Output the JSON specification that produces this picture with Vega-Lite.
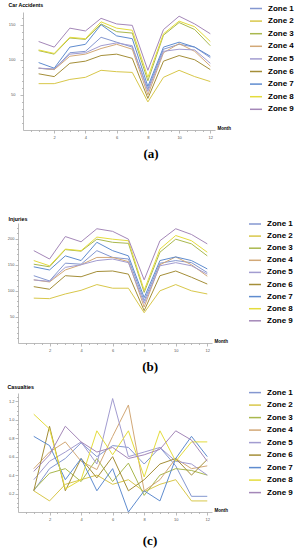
{
  "$schema": "https://vega.github.io/schema/vega-lite/v6.json",
  "padding": {"left": 7, "top": 1, "right": 0, "bottom": 0},
  "background": "white",
  "config": {
    "view": {"stroke": null},
    "axis": {"labelFont": "Liberation Sans", "titleFont": "Liberation Sans", "domainColor": "#aaaaaa", "tickColor": "#aaaaaa", "labelColor": "#555555", "grid": false, "labelOverlap": false, "labelFlush": false, "domainWidth": 0.8, "tickWidth": 0.8},
    "legend": {"labelFont": "Liberation Sans"},
    "title": {"font": "Liberation Serif"}
  },
  "datasets": {
    "acc": [
      {"m":1,"Zone 1":88,"Zone 2":66,"Zone 3":113,"Zone 4":88,"Zone 5":88,"Zone 6":80,"Zone 7":96,"Zone 8":114,"Zone 9":126},
      {"m":2,"Zone 1":86,"Zone 2":66,"Zone 3":108,"Zone 4":86,"Zone 5":87,"Zone 6":76,"Zone 7":88,"Zone 8":109,"Zone 9":118},
      {"m":3,"Zone 1":110,"Zone 2":72,"Zone 3":131,"Zone 4":105,"Zone 5":108,"Zone 6":95,"Zone 7":118,"Zone 8":132,"Zone 9":145},
      {"m":4,"Zone 1":112,"Zone 2":75,"Zone 3":129,"Zone 4":108,"Zone 5":110,"Zone 6":98,"Zone 7":122,"Zone 8":130,"Zone 9":141},
      {"m":5,"Zone 1":132,"Zone 2":85,"Zone 3":151,"Zone 4":116,"Zone 5":120,"Zone 6":106,"Zone 7":150,"Zone 8":154,"Zone 9":159},
      {"m":6,"Zone 1":125,"Zone 2":83,"Zone 3":140,"Zone 4":122,"Zone 5":124,"Zone 6":108,"Zone 7":134,"Zone 8":145,"Zone 9":151},
      {"m":7,"Zone 1":118,"Zone 2":82,"Zone 3":138,"Zone 4":115,"Zone 5":120,"Zone 6":102,"Zone 7":130,"Zone 8":142,"Zone 9":149},
      {"m":8,"Zone 1":58,"Zone 2":40,"Zone 3":70,"Zone 4":50,"Zone 5":55,"Zone 6":45,"Zone 7":62,"Zone 8":75,"Zone 9":85},
      {"m":9,"Zone 1":115,"Zone 2":75,"Zone 3":135,"Zone 4":110,"Zone 5":112,"Zone 6":98,"Zone 7":118,"Zone 8":137,"Zone 9":143},
      {"m":10,"Zone 1":122,"Zone 2":85,"Zone 3":153,"Zone 4":123,"Zone 5":115,"Zone 6":106,"Zone 7":125,"Zone 8":155,"Zone 9":162},
      {"m":11,"Zone 1":118,"Zone 2":76,"Zone 3":143,"Zone 4":112,"Zone 5":114,"Zone 6":100,"Zone 7":118,"Zone 8":147,"Zone 9":151},
      {"m":12,"Zone 1":103,"Zone 2":69,"Zone 3":120,"Zone 4":91,"Zone 5":95,"Zone 6":86,"Zone 7":105,"Zone 8":126,"Zone 9":137}
    ],
    "inj": [
      {"m":1,"Zone 1":129,"Zone 2":86,"Zone 3":151,"Zone 4":121,"Zone 5":121,"Zone 6":108,"Zone 7":146,"Zone 8":158,"Zone 9":177},
      {"m":2,"Zone 1":119,"Zone 2":85,"Zone 3":146,"Zone 4":117,"Zone 5":118,"Zone 6":103,"Zone 7":140,"Zone 8":148,"Zone 9":161},
      {"m":3,"Zone 1":153,"Zone 2":94,"Zone 3":179,"Zone 4":140,"Zone 5":145,"Zone 6":129,"Zone 7":167,"Zone 8":180,"Zone 9":204},
      {"m":4,"Zone 1":151,"Zone 2":101,"Zone 3":176,"Zone 4":150,"Zone 5":150,"Zone 6":127,"Zone 7":158,"Zone 8":177,"Zone 9":194},
      {"m":5,"Zone 1":177,"Zone 2":112,"Zone 3":199,"Zone 4":164,"Zone 5":158,"Zone 6":137,"Zone 7":193,"Zone 8":203,"Zone 9":219},
      {"m":6,"Zone 1":164,"Zone 2":105,"Zone 3":193,"Zone 4":164,"Zone 5":161,"Zone 6":138,"Zone 7":177,"Zone 8":199,"Zone 9":214},
      {"m":7,"Zone 1":161,"Zone 2":105,"Zone 3":191,"Zone 4":156,"Zone 5":154,"Zone 6":132,"Zone 7":167,"Zone 8":196,"Zone 9":199},
      {"m":8,"Zone 1":81,"Zone 2":58,"Zone 3":97,"Zone 4":69,"Zone 5":76,"Zone 6":62,"Zone 7":87,"Zone 8":101,"Zone 9":121},
      {"m":9,"Zone 1":153,"Zone 2":100,"Zone 3":174,"Zone 4":150,"Zone 5":148,"Zone 6":129,"Zone 7":158,"Zone 8":180,"Zone 9":196},
      {"m":10,"Zone 1":158,"Zone 2":112,"Zone 3":199,"Zone 4":165,"Zone 5":154,"Zone 6":138,"Zone 7":165,"Zone 8":206,"Zone 9":219},
      {"m":11,"Zone 1":154,"Zone 2":100,"Zone 3":190,"Zone 4":150,"Zone 5":148,"Zone 6":126,"Zone 7":158,"Zone 8":196,"Zone 9":208},
      {"m":12,"Zone 1":135,"Zone 2":94,"Zone 3":167,"Zone 4":128,"Zone 5":132,"Zone 6":113,"Zone 7":142,"Zone 8":174,"Zone 9":190}
    ],
    "cas": [
      {"m":1,"Zone 1":0.23,"Zone 2":0.23,"Zone 3":0.24,"Zone 4":0.47,"Zone 5":0.35,"Zone 6":0.23,"Zone 7":0.82,"Zone 8":1.06,"Zone 9":0.44},
      {"m":2,"Zone 1":0.47,"Zone 2":0.12,"Zone 3":0.42,"Zone 4":0.65,"Zone 5":0.55,"Zone 6":0.93,"Zone 7":0.72,"Zone 8":0.9,"Zone 9":0.62},
      {"m":3,"Zone 1":0.58,"Zone 2":0.3,"Zone 3":0.47,"Zone 4":0.76,"Zone 5":0.65,"Zone 6":0.23,"Zone 7":0.35,"Zone 8":0.25,"Zone 9":0.93},
      {"m":4,"Zone 1":0.75,"Zone 2":0.35,"Zone 3":0.33,"Zone 4":0.55,"Zone 5":0.76,"Zone 6":0.58,"Zone 7":0.58,"Zone 8":0.35,"Zone 9":0.76},
      {"m":5,"Zone 1":0.6,"Zone 2":0.4,"Zone 3":0.58,"Zone 4":0.46,"Zone 5":0.52,"Zone 6":0.37,"Zone 7":0.23,"Zone 8":0.88,"Zone 9":0.65},
      {"m":6,"Zone 1":0.72,"Zone 2":0.3,"Zone 3":0.33,"Zone 4":0.82,"Zone 5":1.23,"Zone 6":0.6,"Zone 7":0.47,"Zone 8":0.62,"Zone 9":0.7},
      {"m":7,"Zone 1":0.7,"Zone 2":0.35,"Zone 3":0.53,"Zone 4":1.16,"Zone 5":0.6,"Zone 6":0.23,"Zone 7":0.0,"Zone 8":0.88,"Zone 9":0.58},
      {"m":8,"Zone 1":0.52,"Zone 2":0.22,"Zone 3":0.18,"Zone 4":0.23,"Zone 5":0.65,"Zone 6":0.35,"Zone 7":0.23,"Zone 8":0.38,"Zone 9":0.62},
      {"m":9,"Zone 1":0.7,"Zone 2":0.3,"Zone 3":0.4,"Zone 4":0.35,"Zone 5":0.7,"Zone 6":0.52,"Zone 7":0.12,"Zone 8":0.88,"Zone 9":0.68},
      {"m":10,"Zone 1":0.5,"Zone 2":0.35,"Zone 3":0.47,"Zone 4":0.58,"Zone 5":0.55,"Zone 6":0.58,"Zone 7":0.58,"Zone 8":0.55,"Zone 9":0.88},
      {"m":11,"Zone 1":0.17,"Zone 2":0.12,"Zone 3":0.45,"Zone 4":0.47,"Zone 5":0.52,"Zone 6":0.4,"Zone 7":0.82,"Zone 8":0.76,"Zone 9":0.78},
      {"m":12,"Zone 1":0.17,"Zone 2":0.12,"Zone 3":0.4,"Zone 4":0.5,"Zone 5":0.4,"Zone 6":0.57,"Zone 7":0.6,"Zone 8":0.76,"Zone 9":0.55}
    ]
  },
  "resolve": {"legend": {"color": "independent"}},
  "spacing": 10,
  "vconcat": [
    {
      "width": 197, "height": 118,
      "data": {"name": "acc"},
      "transform": [{"fold": ["Zone 1","Zone 2","Zone 3","Zone 4","Zone 5","Zone 6","Zone 7","Zone 8","Zone 9"], "as": ["zone","value"]}],
      "mark": {"type": "line", "strokeWidth": 1},
      "title": {"text": "(a)", "subtitle": " ", "subtitleFontSize": 2, "subtitlePadding": 43, "orient": "bottom", "anchor": "middle", "frame": "bounds", "offset": 9, "fontSize": 13, "fontWeight": "bold", "color": "black"},
      "encoding": {
        "x": {"field": "m", "type": "quantitative", "scale": {"domain": [0, 12.3], "range": [5, 197], "nice": false, "zero": false},
          "axis": {"title": "Month", "titleX": 199, "titleY": -2, "titleAlign": "left", "titleBaseline": "middle", "titleAnchor": null, "titleFontSize": 4.5, "titleFontWeight": "bold", "titleColor": "black",
            "values": [0.5,1,1.5,2,2.5,3,3.5,4,4.5,5,5.5,6,6.5,7,7.5,8,8.5,9,9.5,10,10.5,11,11.5,12],
            "labelExpr": "datum.value % 2 == 0 ? format(datum.value, 'd') : ''", "labelFontSize": 4, "labelPadding": 2,
            "tickSize": {"condition": {"test": "datum.value % 2 == 0", "value": 3}, "value": 1.5}}},
        "y": {"field": "value", "type": "quantitative", "scale": {"domain": [0, 168], "nice": false},
          "axis": {"title": "Car Accidents", "offset": -5, "titleAngle": 0, "titleX": -15, "titleY": -8, "titleAlign": "left", "titleBaseline": "middle", "titleFontSize": 5.2, "titleFontWeight": "bold", "titleColor": "black",
            "values": [10,20,30,40,50,60,70,80,90,100,110,120,130,140,150,160],
            "labelExpr": "datum.value % 50 == 0 ? format(datum.value, 'd') : ''", "labelFontSize": 4, "labelPadding": 5,
            "tickSize": {"condition": {"test": "datum.value % 50 == 0", "value": 3}, "value": 1.5}}},
        "color": {"field": "zone", "type": "nominal",
          "scale": {"domain": ["Zone 1","Zone 2","Zone 3","Zone 4","Zone 5","Zone 6","Zone 7","Zone 8","Zone 9"], "range": ["#8497D0","#D8C74A","#A9B84E","#D2A877","#A29CD0","#A48E38","#5F8CCF","#E4DC3C","#A487B8"]},
          "legend": {"orient": "none", "legendX": 231, "legendY": -10.5, "title": null, "symbolType": "stroke", "symbolSize": 144, "symbolStrokeWidth": 1.5, "labelFontSize": 8, "labelFontWeight": "bold", "labelColor": "black", "rowPadding": 1.6, "labelOffset": 5}}
      }
    },
    {
      "width": 194, "height": 120,
      "data": {"name": "inj"},
      "transform": [{"fold": ["Zone 1","Zone 2","Zone 3","Zone 4","Zone 5","Zone 6","Zone 7","Zone 8","Zone 9"], "as": ["zone","value"]}],
      "mark": {"type": "line", "strokeWidth": 1},
      "title": {"text": "(b)", "orient": "bottom", "anchor": "middle", "frame": "bounds", "offset": 9, "fontSize": 13, "fontWeight": "bold", "color": "black"},
      "encoding": {
        "x": {"field": "m", "type": "quantitative", "scale": {"domain": [0, 12.3], "nice": false, "zero": false},
          "axis": {"title": "Month", "titleX": 196, "titleY": -2, "titleAlign": "left", "titleBaseline": "middle", "titleAnchor": null, "titleFontSize": 4.5, "titleFontWeight": "bold", "titleColor": "black",
            "values": [0.5,1,1.5,2,2.5,3,3.5,4,4.5,5,5.5,6,6.5,7,7.5,8,8.5,9,9.5,10,10.5,11,11.5,12],
            "labelExpr": "datum.value % 2 == 0 ? format(datum.value, 'd') : ''", "labelFontSize": 4, "labelPadding": 2,
            "tickSize": {"condition": {"test": "datum.value % 2 == 0", "value": 3}, "value": 1.5}}},
        "y": {"field": "value", "type": "quantitative", "scale": {"domain": [0, 230], "nice": false},
          "axis": {"title": "Injuries", "titleAngle": 0, "titleX": -10, "titleY": -5, "titleAlign": "left", "titleBaseline": "middle", "titleFontSize": 5.3, "titleFontWeight": "bold", "titleColor": "black",
            "values": [10,20,30,40,50,60,70,80,90,100,110,120,130,140,150,160,170,180,190,200,210,220],
            "labelExpr": "datum.value % 50 == 0 ? format(datum.value, 'd') : ''", "labelFontSize": 4, "labelPadding": 1,
            "tickSize": {"condition": {"test": "datum.value % 50 == 0", "value": 3}, "value": 1.5}}},
        "color": {"field": "zone", "type": "nominal",
          "scale": {"domain": ["Zone 1","Zone 2","Zone 3","Zone 4","Zone 5","Zone 6","Zone 7","Zone 8","Zone 9"], "range": ["#8497D0","#D8C74A","#A9B84E","#D2A877","#A29CD0","#A48E38","#5F8CCF","#E4DC3C","#A487B8"]},
          "legend": {"orient": "none", "legendX": 230, "legendY": -6, "title": null, "symbolType": "stroke", "symbolSize": 144, "symbolStrokeWidth": 1.5, "labelFontSize": 8, "labelFontWeight": "bold", "labelColor": "black", "rowPadding": 1.1, "labelOffset": 5}}
      }
    },
    {
      "width": 194, "height": 119,
      "data": {"name": "cas"},
      "transform": [{"fold": ["Zone 1","Zone 2","Zone 3","Zone 4","Zone 5","Zone 6","Zone 7","Zone 8","Zone 9"], "as": ["zone","value"]}],
      "mark": {"type": "line", "strokeWidth": 1},
      "title": {"text": "(c)", "orient": "bottom", "anchor": "middle", "frame": "bounds", "offset": 14, "fontSize": 13, "fontWeight": "bold", "color": "black"},
      "encoding": {
        "x": {"field": "m", "type": "quantitative", "scale": {"domain": [0, 12.3], "nice": false, "zero": false},
          "axis": {"title": "Month", "titleX": 196, "titleY": -2, "titleAlign": "left", "titleBaseline": "middle", "titleAnchor": null, "titleFontSize": 4.5, "titleFontWeight": "bold", "titleColor": "black",
            "values": [0.5,1,1.5,2,2.5,3,3.5,4,4.5,5,5.5,6,6.5,7,7.5,8,8.5,9,9.5,10,10.5,11,11.5,12],
            "labelExpr": "datum.value % 2 == 0 ? format(datum.value, 'd') : ''", "labelFontSize": 4, "labelPadding": 2,
            "tickSize": {"condition": {"test": "datum.value % 2 == 0", "value": 3}, "value": 1.5}}},
        "y": {"field": "value", "type": "quantitative", "scale": {"domain": [0, 1.29], "nice": false},
          "axis": {"title": "Casualties", "titleAngle": 0, "titleX": -11, "titleY": -7, "titleAlign": "left", "titleBaseline": "middle", "titleFontSize": 5.3, "titleFontWeight": "bold", "titleColor": "black",
            "values": [0.05,0.1,0.15,0.2,0.25,0.3,0.35,0.4,0.45,0.5,0.55,0.6,0.65,0.7,0.75,0.8,0.85,0.9,0.95,1.0,1.05,1.1,1.15,1.2,1.25],
            "labelExpr": "abs(datum.value*5 - round(datum.value*5)) < 0.001 ? format(datum.value, '.1f') : ''", "labelFontSize": 4, "labelPadding": 1,
            "tickSize": {"condition": {"test": "abs(datum.value*5 - round(datum.value*5)) < 0.001", "value": 3}, "value": 1.5}}},
        "color": {"field": "zone", "type": "nominal",
          "scale": {"domain": ["Zone 1","Zone 2","Zone 3","Zone 4","Zone 5","Zone 6","Zone 7","Zone 8","Zone 9"], "range": ["#8497D0","#D8C74A","#A9B84E","#D2A877","#A29CD0","#A48E38","#5F8CCF","#E4DC3C","#A487B8"]},
          "legend": {"orient": "none", "legendX": 230, "legendY": -7.4, "title": null, "symbolType": "stroke", "symbolSize": 144, "symbolStrokeWidth": 1.5, "labelFontSize": 8, "labelFontWeight": "bold", "labelColor": "black", "rowPadding": 1.5, "labelOffset": 5}}
      }
    }
  ]
}
